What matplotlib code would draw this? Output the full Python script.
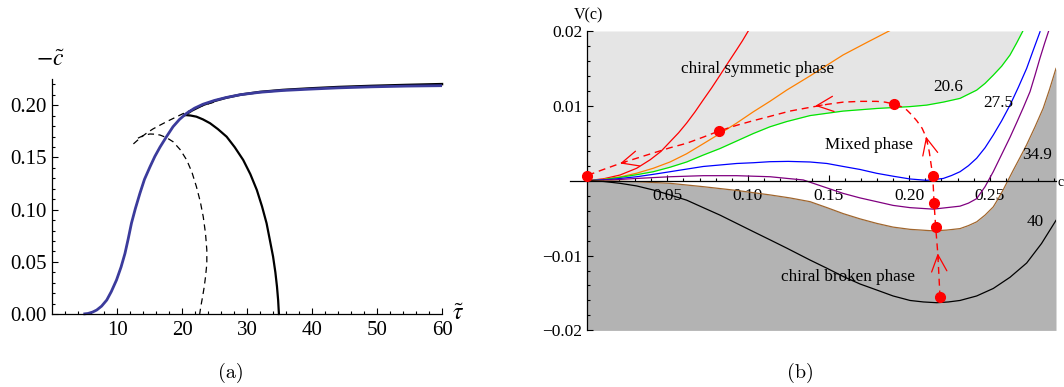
import matplotlib
matplotlib.use("Agg")
from matplotlib import pyplot as plt
from matplotlib.ticker import FixedLocator, NullFormatter
import numpy as np

plt.rcParams['font.family'] = ['Liberation Serif', 'DejaVu Serif']
plt.rcParams['mathtext.fontset'] = 'stix'

# ---------------- panel (a) data: -c~ versus tau~ ----------------
blue_tau = [4.8, 5.5, 6.2, 6.85, 7.6, 8.4, 9.1, 9.9, 10.6, 11.2, 11.7, 12.2, 12.8, 13.5,
            14.2, 15.05, 15.8, 16.6, 17.6, 18.6, 19.6, 20.7, 21.9, 23.2, 25.0, 26.8,
            29.0, 32.0, 35.5, 39.7, 44.0, 49.2, 54.5, 60.0]
blue_c = [0.0, 0.0005, 0.0018, 0.0038, 0.0075, 0.0134, 0.0215, 0.0326, 0.045, 0.058,
          0.072, 0.087, 0.101, 0.1156, 0.129, 0.141, 0.151, 0.160, 0.170, 0.1795, 0.1865,
          0.1924, 0.1972, 0.2010, 0.2047, 0.2075, 0.2102, 0.2125, 0.2142, 0.2155, 0.2167,
          0.2177, 0.2184, 0.2188]

black_up_tau = [20.43, 21.5, 23.2, 25.0, 26.8, 29.0, 32.0, 35.5, 39.7, 44.0, 49.2, 54.5, 60.0]
black_up_c = [0.1907, 0.1950, 0.2003, 0.2042, 0.2073, 0.2102, 0.2128, 0.2147, 0.2162,
              0.2175, 0.2186, 0.2195, 0.2203]

black_lo_tau = [20.43, 21.3, 22.2, 23.2, 24.3, 25.5, 26.85, 28.1, 29.4, 30.5, 31.5, 32.3,
                33.0, 33.5, 34.0, 34.35, 34.6, 34.78, 34.86, 34.9]
black_lo_c = [0.1907, 0.1902, 0.1891, 0.1865, 0.1828, 0.1772, 0.1699, 0.1598, 0.1476,
              0.1340, 0.1188, 0.1030, 0.0869, 0.0710, 0.0549, 0.040, 0.0262, 0.013, 0.004, 0.0]

dash_out_tau = [12.5, 13.5, 14.5, 15.5, 16.6, 17.9, 19.15, 20.4, 21.7, 23.0, 24.3, 25.5]
dash_out_c = [0.163, 0.1685, 0.1732, 0.1773, 0.181, 0.1852, 0.189, 0.1928, 0.1962,
              0.1993, 0.2019, 0.2040]

dash_in_tau = [13.2, 14.1, 15.05, 15.8, 16.6, 17.6, 18.6, 19.7, 20.7, 21.5, 22.2, 22.8,
               23.25, 23.6, 23.8, 23.8, 23.6, 23.4, 23.15, 22.9, 22.7]
dash_in_c = [0.1685, 0.1712, 0.1725, 0.1723, 0.1715, 0.1690, 0.1651, 0.1575, 0.1476,
             0.1360, 0.122, 0.1075, 0.0932, 0.077, 0.0613, 0.048, 0.0357, 0.026, 0.0166,
             0.008, 0.0]

a_xticks = [10, 20, 30, 40, 50, 60]
a_yticks = [0.00, 0.05, 0.10, 0.15, 0.20]

# ---------------- panel (b) data: V(c) for several temperatures ----------------
red_x = [0, 0.0104, 0.0207, 0.031, 0.0394, 0.0460, 0.0517, 0.057, 0.062, 0.0672, 0.0723,
         0.0775, 0.0827, 0.0878, 0.093, 0.0966, 0.1002]
red_y = [0, 0.00025, 0.00076, 0.00166, 0.0028, 0.0039, 0.0052, 0.0064, 0.0077, 0.0092,
         0.0108, 0.0124, 0.0141, 0.0158, 0.0175, 0.0187, 0.0200]

orange_x = [0, 0.0104, 0.0207, 0.031, 0.0413, 0.0517, 0.062, 0.072, 0.0827, 0.093, 0.1033,
            0.1136, 0.124, 0.1385, 0.159, 0.174, 0.1884]
orange_y = [0, 0.0002, 0.0005, 0.001, 0.00166, 0.0025, 0.0036, 0.0049, 0.0063, 0.0077,
            0.0092, 0.0106, 0.0121, 0.0140, 0.0168, 0.0185, 0.0201]

green_x = [0, 0.0104, 0.0207, 0.031, 0.0413, 0.0517, 0.062, 0.072, 0.0827, 0.093, 0.1033,
           0.1136, 0.124, 0.1385, 0.159, 0.1799, 0.2005, 0.2108, 0.2211, 0.2315, 0.2418,
           0.247, 0.2521, 0.2573, 0.2625, 0.2666, 0.2707]
green_y = [0, 0.00015, 0.00045, 0.0008, 0.0012, 0.0018, 0.0025, 0.0034, 0.0043, 0.0053,
           0.0063, 0.0072, 0.0079, 0.0087, 0.0093, 0.00965, 0.0099, 0.0101, 0.0105, 0.0110,
           0.0121, 0.0130, 0.0141, 0.0153, 0.0168, 0.0184, 0.0201]

blue_x = [0, 0.0155, 0.031, 0.0413, 0.0517, 0.062, 0.0723, 0.0827, 0.093, 0.1033, 0.1137,
          0.125, 0.1385, 0.149, 0.1591, 0.1695, 0.1798, 0.19, 0.2005, 0.2108, 0.2211,
          0.2263, 0.2315, 0.2367, 0.2418, 0.247, 0.2521, 0.2573, 0.2625, 0.2677, 0.2728,
          0.277, 0.2811]
blue_y = [0, 0.00018, 0.00053, 0.00085, 0.0012, 0.00155, 0.0019, 0.0021, 0.0023, 0.0024,
          0.00254, 0.00258, 0.0025, 0.0023, 0.0019, 0.0015, 0.00099, 0.0006, 0.00023,
          0.00005, 0.0003, 0.0007, 0.0012, 0.002, 0.0030, 0.0044, 0.0061, 0.008, 0.0101,
          0.0125, 0.0150, 0.0175, 0.0199]

purple_x = [0, 0.0155, 0.031, 0.0517, 0.0723, 0.093, 0.1137, 0.1245, 0.1343, 0.1467,
            0.1591, 0.1695, 0.1798, 0.19, 0.2005, 0.2149, 0.2315, 0.2367, 0.2418, 0.2470,
            0.2521, 0.2573, 0.2625, 0.2667, 0.2708, 0.2749, 0.2780, 0.2811, 0.2840, 0.2866]
purple_y = [0, 0.0001, 0.0003, 0.00053, 0.00067, 0.00067, 0.00053, 0.0003, 0.0001,
            -0.0008, -0.0017, -0.0023, -0.0028, -0.0033, -0.0036, -0.0038, -0.0034,
            -0.0030, -0.0024, -0.0008, 0.0012, 0.0035, 0.0058, 0.0078, 0.0098, 0.0119,
            0.0141, 0.0164, 0.0184, 0.0201]

brown_x = [0, 0.0155, 0.031, 0.0517, 0.0723, 0.093, 0.1137, 0.1260, 0.1385, 0.149, 0.1591,
           0.1695, 0.1798, 0.19, 0.2005, 0.2149, 0.2232, 0.2315, 0.2367, 0.2418, 0.247,
           0.2521, 0.2552, 0.2583, 0.2614, 0.2645, 0.2687, 0.2728, 0.278, 0.2831, 0.287, 0.291]
brown_y = [0, -0.00004, -0.00013, -0.00035, -0.0008, -0.0013, -0.0019, -0.0023, -0.0028,
           -0.0036, -0.0044, -0.0051, -0.0057, -0.0062, -0.0065, -0.0067, -0.0066, -0.0064,
           -0.0060, -0.0055, -0.0046, -0.0035, -0.0024, -0.0012, 0.0001, 0.0014, 0.0031,
           0.0048, 0.0072, 0.0097, 0.0122, 0.0150]

black_x = [0, 0.0104, 0.0207, 0.031, 0.0413, 0.0517, 0.062, 0.0723, 0.0827, 0.093, 0.1033,
           0.1137, 0.124, 0.1385, 0.149, 0.1591, 0.1695, 0.1798, 0.19, 0.2005, 0.2088,
           0.2171, 0.2243, 0.2315, 0.2418, 0.2521, 0.2625, 0.2728, 0.282, 0.291]
black_y = [0, -0.0001, -0.00035, -0.0007, -0.00124, -0.0019, -0.0026, -0.0036, -0.0046,
           -0.0057, -0.0068, -0.0079, -0.0090, -0.0106, -0.0117, -0.0128, -0.0138, -0.0146,
           -0.0154, -0.0160, -0.0162, -0.0163, -0.0162, -0.0160, -0.0154, -0.0144, -0.0129,
           -0.0110, -0.0084, -0.0053]

# dashed flow path and its dots / arrows
path_x = [0.2191, 0.2177, 0.2164, 0.2154, 0.2146, 0.2136, 0.2124, 0.2105, 0.2080, 0.2047,
          0.2015, 0.1985, 0.1950, 0.1906, 0.1850, 0.1798, 0.1700, 0.1591, 0.1490, 0.1385,
          0.126, 0.1137, 0.103, 0.093, 0.0821, 0.072, 0.062, 0.0517, 0.0413, 0.031, 0.0207,
          0.0104, 0.0]
path_y = [-0.0156, -0.0097, -0.0062, -0.0030, 0.00067, 0.0021, 0.0039, 0.0058, 0.0070,
          0.0080, 0.0088, 0.00945, 0.0099, 0.01025, 0.0105, 0.0106, 0.0106, 0.0105, 0.0102,
          0.0098, 0.0093, 0.0086, 0.0080, 0.0074, 0.00664, 0.0058, 0.0050, 0.0044, 0.0037,
          0.0030, 0.0023, 0.0015, 0.00067]
dot_x = [0.0, 0.0821, 0.1906, 0.2146, 0.2154, 0.2164, 0.2191]
dot_y = [0.00067, 0.00664, 0.01025, 0.00067, -0.0030, -0.0062, -0.0156]
arrow_tip_x = [0.0207, 0.1417, 0.2104, 0.2177]
arrow_tip_y = [0.0023, 0.0100, 0.0059, -0.0097]
arrow_tail_x = [0.0240, 0.1460, 0.2114, 0.2180]
arrow_tail_y = [0.0025, 0.0101, 0.0050, -0.0105]

b_xticks = [0.05, 0.10, 0.15, 0.20, 0.25]
b_yticks = [-0.02, -0.01, 0.01, 0.02]

W, H = 1064, 387


def px_box(x0, y0, x1, y1):
    return [x0 / W, 1 - y1 / H, (x1 - x0) / W, (y1 - y0) / H]


fig = plt.figure(figsize=(W / 100, H / 100), dpi=100)

# ================= panel (a) =================
ax1 = fig.add_axes(px_box(52.2, 79, 442, 314))
ax1.set_xlim(0, 60)
ax1.set_ylim(0, 0.2252)
for s in ['top', 'right']:
    ax1.spines[s].set_visible(False)
for s in ['left', 'bottom']:
    ax1.spines[s].set_linewidth(0.9)

ax1.plot(dash_out_tau, dash_out_c, color='black', lw=0.9, ls=(0, (5, 3.5)))
ax1.plot(dash_in_tau, dash_in_c, color='black', lw=0.9, ls=(0, (5, 3.5)), clip_on=False)
ax1.plot(black_lo_tau, black_lo_c, color='black', lw=1.6, clip_on=False)
ax1.plot(black_up_tau, black_up_c, color='black', lw=1.8, clip_on=False)
ax1.plot(blue_tau, blue_c, color='#3b3b9c', lw=2.0, clip_on=False, solid_capstyle='butt')

ax1.xaxis.set_major_locator(FixedLocator(a_xticks))
ax1.xaxis.set_minor_locator(FixedLocator(np.arange(2, 60, 2)))
ax1.yaxis.set_major_locator(FixedLocator(a_yticks))
ax1.yaxis.set_minor_locator(FixedLocator(np.arange(0.01, 0.225, 0.01)))
ax1.yaxis.set_major_formatter(plt.FuncFormatter(lambda v, p: f"{v:.2f}"))
ax1.tick_params(which='both', direction='in', width=0.8, labelsize=15)
ax1.tick_params(which='major', length=4.5)
ax1.tick_params(which='minor', length=2.5)
ax1.tick_params(axis='x', pad=5)
ax1.tick_params(axis='y', pad=4)

fig.text(50 / W, 1 - 60 / H, r'$-\tilde{c}$', fontsize=17, ha='center', va='center')
fig.text(458 / W, 1 - 315 / H, r'$\tilde{\tau}$', fontsize=17, ha='center', va='center')
fig.text(231 / W, 1 - 373 / H, '(a)', fontsize=14.5, family='cmr10', ha='center', va='center')

# ================= panel (b) =================
ax2 = fig.add_axes(px_box(570.2, 31, 1056, 330.4))
ax2.set_xlim(-0.0102, 0.291)
ax2.set_ylim(-0.02, 0.02)
for s in ['top', 'right']:
    ax2.spines[s].set_visible(False)
ax2.spines['left'].set_position(('data', 0))
ax2.spines['bottom'].set_position(('data', 0))
for s in ['left', 'bottom']:
    ax2.spines[s].set_linewidth(0.9)
    ax2.spines[s].set_zorder(5)

# phase regions
ax2.fill_between(green_x, green_y, 0.02, color='#e5e5e5', lw=0, zorder=0)
ax2.fill_between(brown_x, -0.02, brown_y, color='#b3b3b3', lw=0, zorder=0)

lw = 0.9
ax2.plot(red_x, red_y, color='#ff0000', lw=lw)
ax2.plot(orange_x, orange_y, color='#ff8000', lw=lw)
ax2.plot(green_x, green_y, color='#00e600', lw=lw)
ax2.plot(blue_x, blue_y, color='#0000ff', lw=lw)
ax2.plot(purple_x, purple_y, color='#800080', lw=lw)
ax2.plot(brown_x, brown_y, color='#a0662e', lw=lw)
ax2.plot(black_x, black_y, color='black', lw=lw)

ax2.plot(path_x, path_y, color='#ff0000', lw=1.0, ls=(0, (5, 3.5)), zorder=6)
ax2.plot(dot_x, dot_y, 'o', color='#ff0000', ms=7, zorder=7, clip_on=False)
for tx, ty, sx, sy in zip(arrow_tip_x, arrow_tip_y, arrow_tail_x, arrow_tail_y):
    ax2.annotate('', xy=(tx, ty), xytext=(sx, sy),
                 arrowprops=dict(arrowstyle='->, head_length=1.2, head_width=0.55',
                                 color='#ff0000', lw=0.9, shrinkA=0, shrinkB=0,
                                 mutation_scale=10), zorder=6)

ax2.xaxis.set_major_locator(FixedLocator(b_xticks))
ax2.xaxis.set_minor_locator(FixedLocator(np.arange(0.01, 0.291, 0.01)))
ax2.yaxis.set_major_locator(FixedLocator(b_yticks))
ax2.yaxis.set_minor_locator(FixedLocator(np.arange(-0.018, 0.0195, 0.002)))
ax2.xaxis.set_major_formatter(plt.FuncFormatter(lambda v, p: f"{v:.2f}"))
ax2.yaxis.set_major_formatter(plt.FuncFormatter(lambda v, p: f"{v:.2f}".replace('-', '\u2212')))
ax2.yaxis.set_minor_formatter(NullFormatter())
ax2.tick_params(which='both', direction='in', width=0.8, labelsize=12.5)
ax2.tick_params(which='major', length=4.5)
ax2.tick_params(which='minor', length=2.5)
ax2.tick_params(axis='x', pad=5)
ax2.tick_params(axis='y', pad=3)
for lab in ax2.get_xticklabels():
    lab.set_zorder(8)

ax2.text(0.1060, 0.01493, 'chiral symmetic phase', fontsize=12.3, ha='center', va='center', zorder=8)
ax2.text(0.1749, 0.00477, 'Mixed phase', fontsize=12.3, ha='center', va='center', zorder=8)
ax2.text(0.1623, -0.01283, 'chiral broken phase', fontsize=12.3, ha='center', va='center', zorder=8)
ax2.text(0.2242, 0.01256, '20.6', fontsize=12.3, ha='center', va='center', zorder=8)
ax2.text(0.2552, 0.01042, '27.5', fontsize=12.3, ha='center', va='center', zorder=8)
ax2.text(0.2790, 0.00343, '34.9', fontsize=12.3, ha='center', va='center', zorder=8)
ax2.text(0.2780, -0.00556, '40', fontsize=12.3, ha='center', va='center', zorder=8)

fig.text(588 / W, 1 - 15 / H, 'V(c)', fontsize=11.5, ha='center', va='center')
fig.text(1057 / W, 1 - 182 / H, 'c', fontsize=10, ha='left', va='center')
fig.text(800 / W, 1 - 373 / H, '(b)', fontsize=14.5, family='cmr10', ha='center', va='center')

fig.savefig('out.png', dpi=100)
